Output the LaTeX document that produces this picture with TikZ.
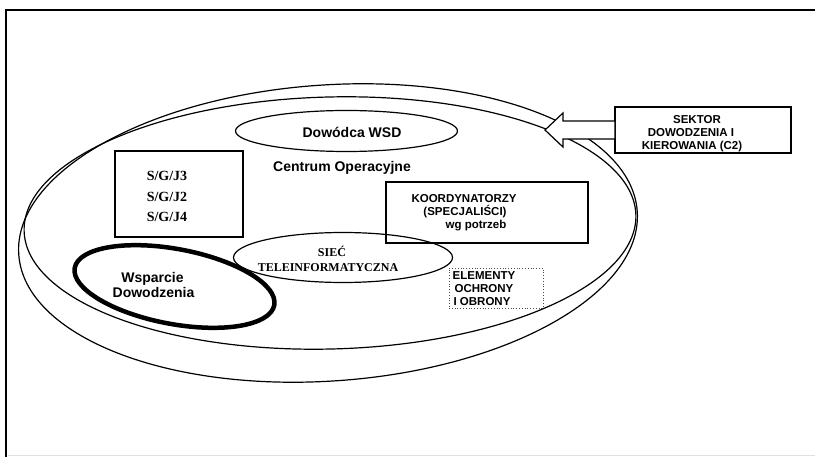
\documentclass[tikz,border=0pt]{standalone}
\usepackage{fontspec}
\setmainfont{Liberation Sans}
\newfontfamily\timesfont{Liberation Serif}
\usetikzlibrary{shapes.geometric,calc}

\begin{document}
\begin{tikzpicture}[x=1pt,y=-1pt,
  oval/.style={ellipse, draw, line width=1.2pt, inner sep=0pt, outer sep=0pt},
  box/.style={rectangle, draw, line width=1.1pt, inner sep=0pt, outer sep=0pt},
  sanslab/.style={anchor=base, inner sep=0pt, font=\bfseries\fontsize{14}{16}\selectfont},
  smalllab/.style={anchor=base, inner sep=0pt, font=\bfseries\fontsize{11.5}{13}\selectfont},
  seriflab/.style={anchor=base, inner sep=0pt, font=\timesfont\bfseries\fontsize{14}{16}\selectfont},
  netlab/.style={anchor=base, inner sep=0pt, font=\timesfont\bfseries\fontsize{12}{14}\selectfont},
]
\useasboundingbox (0,0) rectangle (815,457);
\fill[white] (0,0) rectangle (815,457);

% page frame
\draw[line width=2pt] (815,10) -- (6,10) -- (6,457);
\draw[black!12, line width=0.8pt] (8,455) -- (815,455);

% the two large ovals
\node[oval, minimum width=620, minimum height=296, rotate=4] (outer) at (328,233) {};
\node[oval, minimum width=612, minimum height=252, rotate=1.5] (centrum) at (330,223) {};

% inner ovals
\node[oval, minimum width=222, minimum height=41] (dowodca) at (346.5,131) {};
\node[oval, minimum width=219, minimum height=50] (siec) at (343,257.5) {};
\node[oval, line width=4.5pt, minimum width=203, minimum height=75, rotate=-10.6] (wsparcie) at (174.5,286.5) {};

% boxes
\node[box, minimum width=128, minimum height=86] (sgj) at (179,194) {};
\node[box, minimum width=202, minimum height=61] (koord) at (487,212.5) {};
\node[box, minimum width=176, minimum height=46] (sektor) at (703,130) {};
\node[rectangle, draw=black!70, dotted, line width=0.8pt, inner sep=0pt,
      minimum width=94, minimum height=40] (ochrona) at (496,288) {};

% hollow block arrow from the C2 sector into the centre
\draw[line width=1.2pt, fill=white]
  ($(sektor.west)+(0,-9)$) -- ++(-52,0) -- ++(0,-8) -- ++(-18,17)
  -- ++(18,17) -- ++(0,-8) -- ++(52,0) -- cycle;

% labels
\node[sanslab] (dowodcaT) at (352,137.5) {Dowódca WSD};
\node[sanslab] (centrumT) at (342,172) {Centrum Operacyjne};

\node[seriflab] (sgj3) at (167,181) {S/G/J3};
\node[seriflab] (sgj2) at (167,202) {S/G/J2};
\node[seriflab] (sgj4) at (167,222) {S/G/J4};

\node[smalllab] (koord1) at (464,203) {KOORDYNATORZY};
\node[smalllab] (koord2) at (465,216) {(SPECJALIŚCI)};
\node[smalllab] (koord3) at (476,229) {wg potrzeb};

\node[smalllab] (sektor1) at (697,124) {SEKTOR};
\node[smalllab] (sektor2) at (691,137) {DOWODZENIA I};
\node[smalllab] (sektor3) at (692,150) {KIEROWANIA (C2)};

\node[smalllab] (ochr1) at (484,280) {ELEMENTY};
\node[smalllab] (ochr2) at (484,293) {OCHRONY};
\node[smalllab] (ochr3) at (482,306) {I OBRONY};

\node[netlab] (siec1) at (332,257) {SIEĆ};
\node[netlab] (siec2) at (328,272) {TELEINFORMATYCZNA};

\node[sanslab] (wsp1) at (152.5,283) {Wsparcie};
\node[sanslab] (wsp2) at (153.5,298) {Dowodzenia};
\end{tikzpicture}
\end{document}
